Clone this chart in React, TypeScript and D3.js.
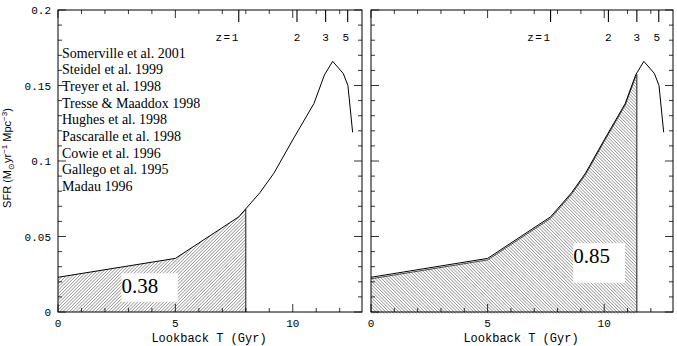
import React from "react";
import * as d3 from "d3";

// star formation history (lookback time in Gyr, SFR)
const lookback = [0, 5, 7.7, 8.6, 9.2, 10.0, 10.9, 11.35, 11.7, 12.15, 12.35, 12.55];
const sfr = [0.023, 0.0355, 0.063, 0.079, 0.092, 0.114, 0.138, 0.157, 0.166, 0.158, 0.15, 0.119];

const references = [
  "Somerville et al. 2001",
  "Steidel et al. 1999",
  "Treyer et al. 1998",
  "Tresse & Maaddox 1998",
  "Hughes et al. 1998",
  "Pascaralle et al. 1998",
  "Cowie et al. 1996",
  "Gallego et al. 1995",
  "Madau 1996",
];

const redshiftLabels = ["z=1", "2", "3", "5"];
const redshiftT = [7.7, 10.18, 11.4, 12.34];

const xTicks = [0, 5, 10];
const yTicks = [0, 0.05, 0.1, 0.15, 0.2];
const fractions = ["0.38", "0.85"];
const cutoffs = [8.0, 11.4];

const W = 677;
const H = 346;
const top = 10;
const bottom = 312;
const xMax = 12.95;

const points = lookback.map((t, i) => ({ t, v: sfr[i] }));

function valueAt(t: number) {
  const i = d3.bisectRight(lookback, t) - 1;
  if (i >= lookback.length - 1) return sfr[sfr.length - 1];
  const f = (t - lookback[i]) / (lookback[i + 1] - lookback[i]);
  return sfr[i] + f * (sfr[i + 1] - sfr[i]);
}

const mono = "'Liberation Mono', monospace";
const serif = "'Liberation Serif', serif";

type PanelProps = {
  x0: number;
  x1: number;
  idx: number;
  hatch: string;
  box: { t0: number; t1: number; v0: number; v1: number };
  shadeShift: number;
  yLabels: boolean;
  legend: boolean;
};

function Panel({ x0, x1, idx, hatch, box, shadeShift, yLabels, legend }: PanelProps) {
  const x = d3.scaleLinear().domain([0, xMax]).range([x0, x1]);
  const y = d3.scaleLinear().domain([0, 0.2]).range([bottom, top]);

  const cut = cutoffs[idx];
  const shadePts = points.filter((p) => p.t < cut).concat([{ t: cut, v: valueAt(cut) }]);
  const area = d3
    .area<{ t: number; v: number }>()
    .x((d) => x(d.t))
    .y0(y(0))
    .y1((d) => y(d.v));
  const topLine = d3
    .line<{ t: number; v: number }>()
    .x((d) => x(d.t))
    .y((d) => y(d.v));

  const minorX = d3.range(1, 13).filter((t) => t % 5 !== 0);
  const minorY = d3.range(1, 20).map((i) => i / 100).filter((_, i) => (i + 1) % 5 !== 0);

  return (
    <g>
      <path d={area(shadePts) || ""} fill={`url(#${hatch})`} transform={`translate(0,${shadeShift})`} />
      {shadeShift > 0 && (
        <path d={topLine(shadePts) || ""} fill="none" stroke="#000" strokeWidth={0.7} transform={`translate(0,${shadeShift})`} />
      )}
      <line x1={x(cut)} x2={x(cut)} y1={y(0)} y2={y(valueAt(cut)) + shadeShift} stroke="#000" strokeWidth={0.9} />
      <path d={topLine(points) || ""} fill="none" stroke="#000" strokeWidth={1} />

      {/* fraction box */}
      <rect
        x={x(box.t0)}
        y={y(box.v1)}
        width={x(box.t1) - x(box.t0)}
        height={y(box.v0) - y(box.v1)}
        fill="#fff"
      />
      <text x={x(box.t0)} y={y(box.v1) + 20} fontFamily={serif} fontSize={21} fill="#000">
        {fractions[idx]}
      </text>

      {/* frame */}
      <rect x={x0} y={top} width={x1 - x0} height={bottom - top} fill="none" stroke="#000" strokeWidth={1} />

      {/* x ticks bottom and top */}
      {xTicks.map((t) => (
        <g key={"xt" + t}>
          <line x1={x(t)} x2={x(t)} y1={bottom} y2={bottom - 8} stroke="#000" strokeWidth={0.8} />
          <line x1={x(t)} x2={x(t)} y1={top} y2={top + 8} stroke="#000" strokeWidth={0.8} />
          <text x={x(t)} y={327} textAnchor="middle" fontFamily={mono} fontSize={11} fill="#000">
            {t}
          </text>
        </g>
      ))}
      {minorX.map((t) => (
        <g key={"xm" + t}>
          <line x1={x(t)} x2={x(t)} y1={bottom} y2={bottom - 4} stroke="#000" strokeWidth={0.8} />
          <line x1={x(t)} x2={x(t)} y1={top} y2={top + 4} stroke="#000" strokeWidth={0.8} />
        </g>
      ))}

      {/* redshift ticks */}
      {redshiftT.map((t, i) => (
        <g key={"z" + i}>
          <line x1={x(t)} x2={x(t)} y1={top} y2={top + 12} stroke="#000" strokeWidth={1.1} />
          <text
            x={i === 0 ? x(t) + 1 : x(t) - (i === 3 ? 2 : 0)}
            y={41}
            textAnchor={i === 0 ? "end" : "middle"}
            fontFamily={mono}
            fontSize={11}
            letterSpacing={i === 0 ? 1.5 : 0}
            fill="#000"
          >
            {redshiftLabels[i]}
          </text>
        </g>
      ))}

      {/* y ticks left and right */}
      {yTicks.map((v) => (
        <g key={"yt" + v}>
          <line x1={x0} x2={x0 + 8} y1={y(v)} y2={y(v)} stroke="#000" strokeWidth={0.8} />
          <line x1={x1} x2={x1 - 8} y1={y(v)} y2={y(v)} stroke="#000" strokeWidth={0.8} />
          {yLabels && (
            <text x={51} y={y(v) + 4} textAnchor="end" fontFamily={mono} fontSize={11} fill="#000">
              {v}
            </text>
          )}
        </g>
      ))}
      {minorY.map((v) => (
        <g key={"ym" + v}>
          <line x1={x0} x2={x0 + 4} y1={y(v)} y2={y(v)} stroke="#000" strokeWidth={0.8} />
          <line x1={x1} x2={x1 - 4} y1={y(v)} y2={y(v)} stroke="#000" strokeWidth={0.8} />
        </g>
      ))}

      <text x={(x0 + x1) / 2 - 1} y={342} textAnchor="middle" fontFamily={mono} fontSize={12} fill="#000">
        Lookback T (Gyr)
      </text>

      {legend &&
        references.map((r, i) => (
          <text key={r} x={x0 + 4} y={57.5 + i * 16.7} fontFamily={serif} fontSize={14} fill="#000">
            {r}
          </text>
        ))}
    </g>
  );
}

export default function App() {
  return (
    <svg width={W} height={H} style={{ position: "fixed", left: 0, top: 0, display: "block", background: "#fff" }}>
      <defs>
        <pattern id="hatchL" width={2.3} height={2.3} patternUnits="userSpaceOnUse" patternTransform="rotate(45)">
          <line x1={0} y1={0} x2={0} y2={2.3} stroke="#333" strokeWidth={0.8} />
        </pattern>
        <pattern id="hatchR" width={2.3} height={2.3} patternUnits="userSpaceOnUse" patternTransform="rotate(-45)">
          <line x1={0} y1={0} x2={0} y2={2.3} stroke="#333" strokeWidth={0.8} />
        </pattern>
      </defs>
      <rect width={W} height={H} fill="#fff" />
      <Panel
        x0={58}
        x1={362}
        idx={0}
        hatch="hatchL"
        box={{ t0: 2.7, t1: 5.1, v0: 0.0068, v1: 0.0256 }}
        shadeShift={0}
        yLabels={true}
        legend={true}
      />
      <Panel
        x0={371}
        x1={673}
        idx={1}
        hatch="hatchR"
        box={{ t0: 8.67, t1: 10.89, v0: 0.0194, v1: 0.0455 }}
        shadeShift={1.5}
        yLabels={false}
        legend={false}
      />
      <text
        transform="translate(11,158) rotate(-90)"
        textAnchor="middle"
        fontFamily="'Liberation Sans', sans-serif"
        fontSize={11}
        fill="#000"
      >
        SFR (M
        <tspan fontSize={8} dy={3}>⊙</tspan>
        <tspan dy={-3}>yr</tspan>
        <tspan fontSize={8} dy={-4}>−1</tspan>
        <tspan dy={4}> Mpc</tspan>
        <tspan fontSize={8} dy={-4}>−3</tspan>
        <tspan dy={4}>)</tspan>
      </text>
    </svg>
  );
}
